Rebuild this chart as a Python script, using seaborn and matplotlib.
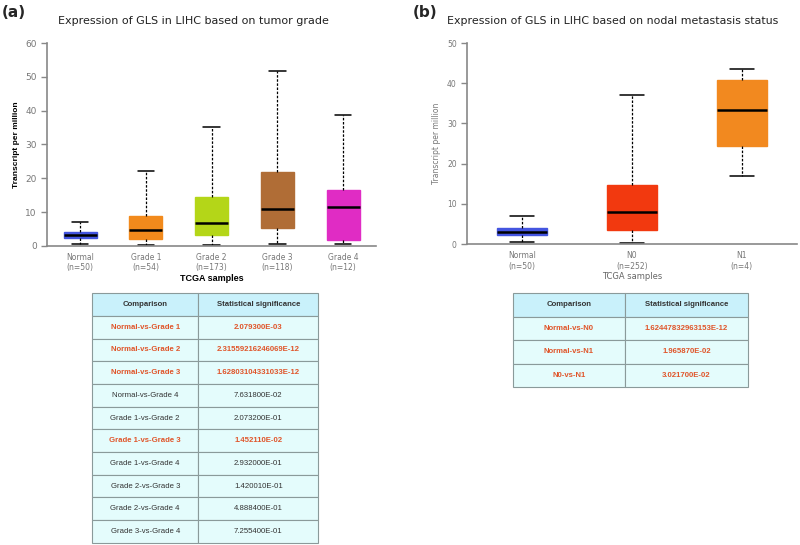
import numpy as np
import pandas as pd
import matplotlib
matplotlib.use("Agg")
import matplotlib.pyplot as plt
import seaborn as sns

# panel (a): tumor grade - five-number summaries
grade_groups = ["Normal", "Grade 1", "Grade 2", "Grade 3", "Grade 4"]
grade_n = [50, 54, 173, 118, 12]
grade_low = [0.5, 0.3, 0.3, 0.5, 0.5]
grade_q1 = [2.3, 2.1, 3.3, 5.4, 1.8]
grade_med = [3.1, 4.7, 6.8, 10.9, 11.4]
grade_q3 = [4.0, 8.8, 14.4, 21.8, 16.5]
grade_high = [7.0, 22.0, 35.3, 51.7, 38.7]
grade_colors = ["#4455e0", "#f28a1c", "#b4d618", "#b06d36", "#e02cc4"]

# panel (b): nodal metastasis status
nodal_groups = ["Normal", "N0", "N1"]
nodal_n = [50, 252, 4]
nodal_low = [0.5, 0.2, 16.9]
nodal_q1 = [2.3, 3.5, 24.3]
nodal_med = [3.1, 7.9, 33.3]
nodal_q3 = [4.0, 14.6, 40.7]
nodal_high = [7.1, 37.1, 43.6]
nodal_colors = ["#4455e0", "#f2390f", "#f2891f"]

# significance tables
grade_comparisons = ["Normal-vs-Grade 1", "Normal-vs-Grade 2", "Normal-vs-Grade 3",
                     "Normal-vs-Grade 4", "Grade 1-vs-Grade 2", "Grade 1-vs-Grade 3",
                     "Grade 1-vs-Grade 4", "Grade 2-vs-Grade 3", "Grade 2-vs-Grade 4",
                     "Grade 3-vs-Grade 4"]
grade_pvalues = ["2.079300E-03", "2.31559216246069E-12", "1.62803104331033E-12",
                 "7.631800E-02", "2.073200E-01", "1.452110E-02", "2.932000E-01",
                 "1.420010E-01", "4.888400E-01", "7.255400E-01"]
nodal_comparisons = ["Normal-vs-N0", "Normal-vs-N1", "N0-vs-N1"]
nodal_pvalues = ["1.62447832963153E-12", "1.965870E-02", "3.021700E-02"]


def long_frame(groups, *cols):
    rows = []
    for i, g in enumerate(groups):
        for c in cols:
            rows.append((g, c[i]))
    return pd.DataFrame(rows, columns=["group", "tpm"])


df_grade = long_frame(grade_groups, grade_low, grade_q1, grade_med, grade_q3, grade_high)
df_nodal = long_frame(nodal_groups, nodal_low, nodal_q1, nodal_med, nodal_q3, nodal_high)

sns.set_style("white")
plt.rcParams["font.family"] = ["DejaVu Sans"]

fig = plt.figure(figsize=(8, 5.45), dpi=100)
ax_a = fig.add_axes([0.059, 0.549, 0.411, 0.372])
ax_b = fig.add_axes([0.584, 0.552, 0.412, 0.369])


def draw_box(ax, df, groups, colors, width):
    sns.boxplot(data=df, x="group", y="tpm", order=groups, hue="group",
                palette=colors, legend=False, whis=np.inf, width=width, ax=ax,
                linecolor="black", linewidth=0.9, saturation=1,
                medianprops=dict(color="black", linewidth=1.8),
                whiskerprops=dict(color="black", linewidth=0.9, linestyle=(0, (2, 1.3))),
                capprops=dict(color="black", linewidth=1.1))
    for patch in ax.patches:
        patch.set_edgecolor(patch.get_facecolor())
        patch.set_linewidth(1.0)
    for s in ["top", "right"]:
        ax.spines[s].set_visible(False)
    for s in ["left", "bottom"]:
        ax.spines[s].set_color("#888888")
        ax.spines[s].set_linewidth(1.2)
    ax.set_xlim(-0.5, len(groups) - 0.5)
    ax.tick_params(axis="y", left=True, length=4, color="#888888", width=1,
                   labelcolor="#777777")
    ax.tick_params(axis="x", bottom=False, labelcolor="#777777", pad=1.5)


draw_box(ax_a, df_grade, grade_groups, grade_colors, 0.5)
ax_a.set_ylim(0, 60)
ax_a.set_yticks(range(0, 61, 10))
ax_a.set_xticks(range(len(grade_groups)))
ax_a.set_xticklabels([f"{g}\n(n={n})" for g, n in zip(grade_groups, grade_n)], fontsize=5.5)
ax_a.tick_params(axis="y", labelsize=6.5)
ax_a.set_xlabel("TCGA samples", fontsize=6.5, fontweight="bold", color="black",
                family="Liberation Sans", labelpad=1)
ax_a.set_ylabel("Transcript per million", fontsize=6, fontweight="bold", color="black",
                family="Liberation Sans")
ax_a.set_title("Expression of GLS in LIHC based on tumor grade", fontsize=8,
               color="#222222", pad=14, x=0.444)

draw_box(ax_b, df_nodal, nodal_groups, nodal_colors, 0.45)
ax_b.set_ylim(0, 50)
ax_b.set_yticks(range(0, 51, 10))
ax_b.set_xticks(range(len(nodal_groups)))
ax_b.set_xticklabels([f"{g}\n(n={n})" for g, n in zip(nodal_groups, nodal_n)], fontsize=5.5)
ax_b.tick_params(axis="y", labelsize=5.5)
ax_b.set_xlabel("TCGA samples", fontsize=6, color="#666666", labelpad=1)
ax_b.set_ylabel("Transcript per million", fontsize=5.5, color="#777777")
ax_b.set_title("Expression of GLS in LIHC based on nodal metastasis status", fontsize=7.9,
               color="#222222", pad=14, x=0.442)

fig.text(0.002, 0.977, "(a)", fontsize=11, fontweight="bold", va="center")
fig.text(0.516, 0.977, "(b)", fontsize=11, fontweight="bold", va="center")


def draw_table(rect, comps, pvals, red_rows, col_frac):
    tax = fig.add_axes(rect)
    tax.axis("off")
    cells = [["Comparison", "Statistical significance"]] + [[c, p] for c, p in zip(comps, pvals)]
    colours = [["#c9f1fb", "#c9f1fb"]] + [["#e4fcfc", "#e4fcfc"]] * len(comps)
    tbl = tax.table(cellText=cells, cellColours=colours, colWidths=[col_frac, 1 - col_frac],
                    cellLoc="center", bbox=[0, 0, 1, 1])
    tbl.auto_set_font_size(False)
    for (r, c), cell in tbl.get_celld().items():
        cell.set_edgecolor("#8a9a9a")
        cell.set_linewidth(0.8)
        txt = cell.get_text()
        txt.set_fontsize(5.6)
        txt.set_family("Liberation Sans")
        if r == 0:
            txt.set_fontweight("bold")
            txt.set_color("#333333")
        elif (r - 1) in red_rows:
            txt.set_fontweight("bold")
            txt.set_color("#e0552a")
        else:
            txt.set_color("#333333")
    return tbl


draw_table([0.115, 0.004, 0.283, 0.458], grade_comparisons, grade_pvalues, [0, 1, 2, 5], 0.47)
draw_table([0.641, 0.29, 0.294, 0.172], nodal_comparisons, nodal_pvalues, [0, 1, 2], 0.477)

fig.savefig("out.png", dpi=100)
